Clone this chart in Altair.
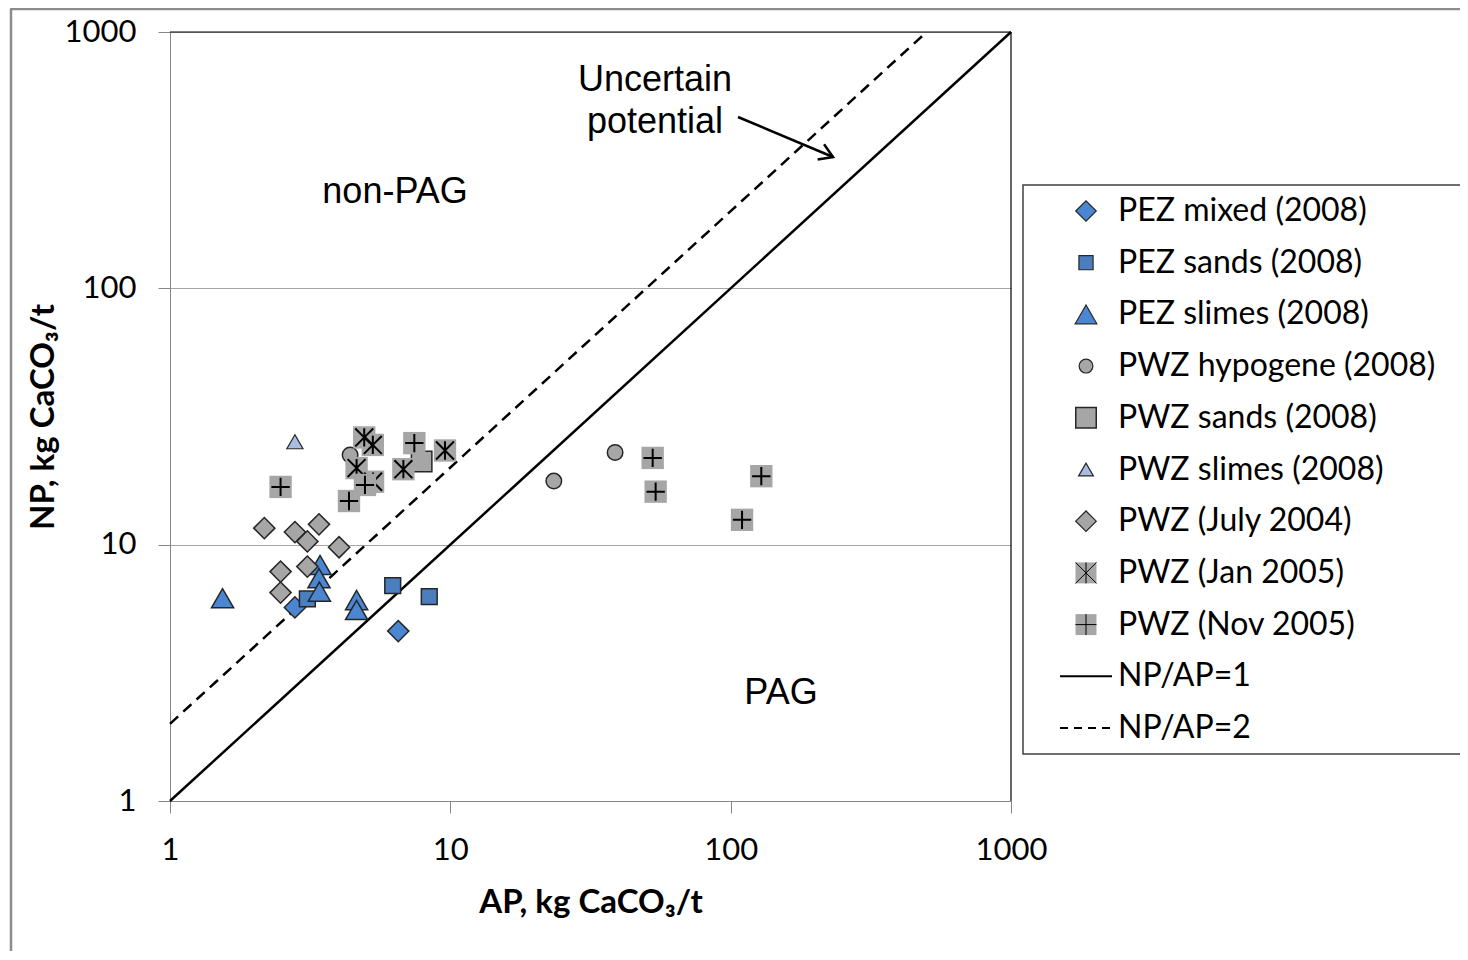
import altair as alt
import pandas as pd

# ---------------- data ----------------
PEZ_MIXED_AP = [2.79, 6.52]
PEZ_MIXED_NP = [5.69, 4.60]

PEZ_SANDS_AP = [3.09, 6.23, 8.41]
PEZ_SANDS_NP = [6.14, 6.92, 6.27]

PEZ_SLIMES_AP = [1.54, 3.43, 3.40, 3.41, 4.63, 4.63]
PEZ_SLIMES_NP = [6.18, 8.33, 7.40, 6.56, 6.08, 5.56]

PWZ_HYPO_AP = [4.39, 23.4, 38.7]
PWZ_HYPO_NP = [22.4, 17.7, 22.9]

PWZ_SANDS_AP = [7.9]
PWZ_SANDS_NP = [21.1]

PWZ_SLIMES_AP = [2.79]
PWZ_SLIMES_NP = [25.2]

JUL2004_AP = [2.17, 2.79, 3.40, 3.09, 4.01, 2.48, 3.09, 2.48]
JUL2004_NP = [11.6, 11.2, 12.0, 10.3, 9.77, 7.85, 8.21, 6.50]

JAN2005_AP = [4.93, 5.29, 4.63, 6.80, 9.57, 5.30]
JAN2005_NP = [26.2, 24.5, 19.9, 19.7, 23.3, 17.6]

NOV2005_AP = [2.48, 4.35, 4.96, 7.44, 52.7, 54.0, 128.6, 109.8]
NOV2005_NP = [16.8, 14.8, 17.1, 24.9, 21.8, 16.1, 18.5, 12.5]

RATIO1_AP = [1, 1000]
RATIO1_NP = [1, 1000]
RATIO2_AP = [1, 500]
RATIO2_NP = [2, 1000]

X_TICKS = [1, 10, 100, 1000]
Y_TICKS = [1, 10, 100, 1000]

LEGEND_LABELS = ["PEZ mixed (2008)", "PEZ sands (2008)", "PEZ slimes (2008)",
                 "PWZ hypogene (2008)", "PWZ sands (2008)", "PWZ slimes (2008)",
                 "PWZ (July 2004)", "PWZ (Jan 2005)", "PWZ (Nov 2005)",
                 "NP/AP=1", "NP/AP=2"]

ANNOT_TEXT = ["non-PAG", "PAG", "Uncertain", "potential"]
ANNOT_AP = [6.35, 151.2, 53.7, 53.7]
ANNOT_NP = [241.8, 2.686, 661.7, 453.6]

ARROW_AP = [106.2, 231.8]
ARROW_NP = [466.0, 325.3]

# ---------------- styles ----------------
W, H = 841, 769
BLUE = "#4a86d2"
BLUE_SQ = "#4a7ebf"
GRAY = "#a6a6a6"
LIGHTBLUE = "#a9bde0"
EDGE = "#262626"
FONT = "Lato"
ANNOT_FONT = "Liberation Sans"

PLUS = "M-0.82,0L0.82,0M0,-0.82L0,0.82"
STAR = "M-0.8,-0.8L0.8,0.8M-0.8,0.8L0.8,-0.8M0,-0.82L0,0.82"
ARROWHEAD = "M-1,-0.62L0,0L-1,0.62"

xscale = alt.Scale(type="log", domain=[1, 1000], nice=False)
yscale = alt.Scale(type="log", domain=[1, 1000], nice=False)

x_axis = alt.Axis(values=X_TICKS, format="d", grid=False, domainColor="#868686",
                  tickColor="#868686", tickSize=12, labelFont=FONT, labelFontSize=31,
                  labelColor="black", labelPadding=22, labelFlush=False,
                  labelOverlap=False,
                  title="AP, kg CaCO₃/t", titleFont=FONT, titleFontSize=33,
                  titleFontWeight="bold", titleColor="black",
                  titleX=W / 2, titleY=101, titleBaseline="middle", titleAlign="center")
y_axis = alt.Axis(values=Y_TICKS, format="d", grid=True, gridColor="#a6a6a6",
                  gridWidth=1, domainColor="#868686", tickColor="#868686", tickSize=12,
                  labelFont=FONT, labelFontSize=31, labelColor="black", labelPadding=22,
                  labelFlush=False, labelOverlap=False,
                  title="NP, kg CaCO₃/t", titleFont=FONT, titleFontSize=33,
                  titleFontWeight="bold", titleColor="black",
                  titleX=-127, titleY=H / 2, titleAngle=270, titleBaseline="middle",
                  titleAlign="center")


def df(ap, np_):
    return pd.DataFrame({"ap": ap, "np": np_})


def enc(chart):
    return chart.encode(
        x=alt.X("ap:Q", scale=xscale, axis=x_axis),
        y=alt.Y("np:Q", scale=yscale, axis=y_axis),
    )


line1 = enc(alt.Chart(df(RATIO1_AP, RATIO1_NP)).mark_line(color="black", strokeWidth=2.5))
line2 = enc(alt.Chart(df(RATIO2_AP, RATIO2_NP)).mark_line(
    color="black", strokeWidth=2.5, strokeDash=[11, 7]))

one = df([1], [1])

# frame: top and right borders of plot
top_border = alt.Chart(one).mark_rule(color="black", strokeWidth=1.2).encode(
    x=alt.value(0), x2=alt.value(W), y=alt.value(0))
right_border = alt.Chart(one).mark_rule(color="black", strokeWidth=1.2).encode(
    x=alt.value(W), y=alt.value(0), y2=alt.value(H))


def pts(ap, np_, shape, size, fill, stroke=None, sw=0.0):
    kw = dict(shape=shape, size=size, filled=True, fill=fill, opacity=1)
    if stroke is not None:
        kw.update(stroke=stroke, strokeWidth=sw)
    else:
        kw.update(strokeWidth=0)
    return enc(alt.Chart(df(ap, np_)).mark_point(**kw))


def overlay(ap, np_, path, size, sw):
    return enc(alt.Chart(df(ap, np_)).mark_point(
        shape=path, size=size, filled=False, stroke="black", strokeWidth=sw, opacity=1))


series_layers = [
    pts(PEZ_MIXED_AP, PEZ_MIXED_NP, "diamond", 450, BLUE, EDGE, 1.5),
    pts(PEZ_SANDS_AP, PEZ_SANDS_NP, "square", 250, BLUE_SQ, EDGE, 1.5),
    pts(PEZ_SLIMES_AP, PEZ_SLIMES_NP, "triangle-up", 490, BLUE, EDGE, 1.5),
    pts(PWZ_HYPO_AP, PWZ_HYPO_NP, "circle", 240, GRAY, EDGE, 1.5),
    pts(PWZ_SANDS_AP, PWZ_SANDS_NP, "square", 420, GRAY, EDGE, 1.5),
    pts(PWZ_SLIMES_AP, PWZ_SLIMES_NP, "triangle-up", 260, LIGHTBLUE, EDGE, 1.2),
    pts(JUL2004_AP, JUL2004_NP, "diamond", 450, GRAY, EDGE, 1.5),
    pts(JAN2005_AP, JAN2005_NP, "square", 500, GRAY),
    overlay(JAN2005_AP, JAN2005_NP, STAR, 500, 2),
    pts(NOV2005_AP, NOV2005_NP, "square", 500, GRAY),
    overlay(NOV2005_AP, NOV2005_NP, PLUS, 500, 2),
]

# annotations
annot = enc(alt.Chart(pd.DataFrame({"ap": ANNOT_AP, "np": ANNOT_NP, "t": ANNOT_TEXT}))
            .mark_text(font=ANNOT_FONT, fontSize=36, color="black", align="center",
                       baseline="middle", dy=2)).encode(text="t:N")
arrow_line = enc(alt.Chart(df(ARROW_AP, ARROW_NP)).mark_line(color="black", strokeWidth=2.5))
arrow_head = enc(alt.Chart(df(ARROW_AP[1:], ARROW_NP[1:])).mark_point(
    shape=ARROWHEAD, size=700, filled=False, stroke="black", strokeWidth=2.5,
    angle=23, opacity=1))

# outer chart border (left & top)
outer_left = alt.Chart(one).mark_rule(color="#8c8c8c", strokeWidth=2.5).encode(
    x=alt.value(-159), y=alt.value(-23), y2=alt.value(H + 200))
outer_top = alt.Chart(one).mark_rule(color="#8c8c8c", strokeWidth=2.5).encode(
    x=alt.value(-160), x2=alt.value(1320), y=alt.value(-23))

# ---------------- legend ----------------
LX0, LY0 = 853, 153
SYM_X, TXT_X, ROW0, STEP = 916, 948, 179, 51.7

legend_box = alt.Chart(one).mark_rect(
    fill="white", stroke="#404040", strokeWidth=1.5).encode(
    x=alt.value(LX0), x2=alt.value(1320), y=alt.value(LY0), y2=alt.value(722))

legend_syms = [
    ("diamond", 420, BLUE, EDGE, 1.2, None),
    ("square", 200, BLUE_SQ, EDGE, 1.2, None),
    ("triangle-up", 470, BLUE, EDGE, 1.2, None),
    ("circle", 190, GRAY, EDGE, 1.2, None),
    ("square", 420, GRAY, EDGE, 1.5, None),
    ("triangle-up", 220, LIGHTBLUE, EDGE, 1.2, None),
    ("diamond", 420, GRAY, EDGE, 1.2, None),
    ("square", 440, GRAY, None, 0, "M-1,-1L1,1M-1,1L1,-1M0,-1L0,1"),
    ("square", 440, GRAY, None, 0, "M-1,0L1,0M0,-1L0,1"),
]

legend_layers = [legend_box]
for i, (shape, size, fill, stroke, sw, ov) in enumerate(legend_syms):
    yy = ROW0 + i * STEP
    kw = dict(shape=shape, size=size, filled=True, fill=fill, opacity=1)
    if stroke is not None:
        kw.update(stroke=stroke, strokeWidth=sw)
    else:
        kw.update(strokeWidth=0)
    legend_layers.append(alt.Chart(one).mark_point(**kw).encode(
        x=alt.value(SYM_X), y=alt.value(yy)))
    if ov is not None:
        legend_layers.append(alt.Chart(one).mark_point(
            shape=ov, size=size, filled=False,
            stroke="black", strokeWidth=1, opacity=1).encode(
            x=alt.value(SYM_X), y=alt.value(yy)))

y_l1 = ROW0 + 9 * STEP
y_l2 = ROW0 + 10 * STEP
legend_layers.append(alt.Chart(one).mark_rule(color="black", strokeWidth=2).encode(
    x=alt.value(890), x2=alt.value(942), y=alt.value(y_l1)))
legend_layers.append(alt.Chart(one).mark_rule(color="black", strokeWidth=2,
                                              strokeDash=[8, 6]).encode(
    x=alt.value(890), x2=alt.value(942), y=alt.value(y_l2)))

for i, lab in enumerate(LEGEND_LABELS):
    legend_layers.append(alt.Chart(pd.DataFrame({"t": [lab]})).mark_text(
        font=FONT, fontSize=32, color="black", align="left", baseline="middle").encode(
        x=alt.value(TXT_X), y=alt.value(ROW0 + i * STEP), text="t:N"))

chart = alt.layer(
    line1, line2, *series_layers, top_border, right_border,
    annot, arrow_line, arrow_head,
    outer_left, outer_top, *legend_layers,
).properties(
    width=W, height=H,
    autosize=alt.AutoSizeParams(type="none"),
    padding={"left": 162, "top": 24, "right": 449, "bottom": 150},
    background="white",
).configure_view(stroke=None)

chart.save("out.html", embed_options={"renderer": "svg", "actions": False})
